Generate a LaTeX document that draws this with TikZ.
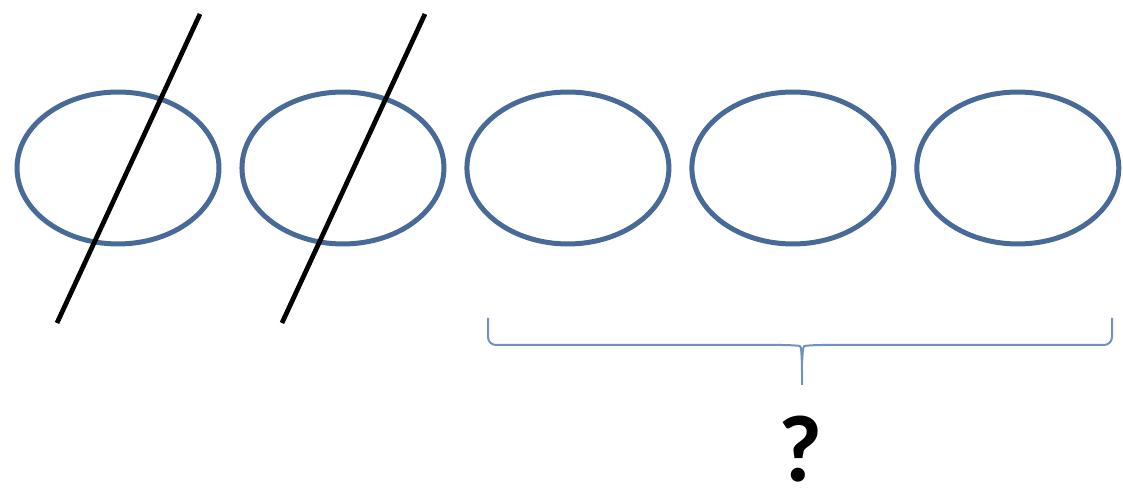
\documentclass[tikz,border=0pt]{standalone}
\usepackage{fontspec}
\setsansfont{Carlito}
\usetikzlibrary{positioning, shapes.geometric}
\definecolor{ringblue}{RGB}{72,106,150}
\definecolor{braceblue}{RGB}{112,146,190}

\begin{document}
\begin{tikzpicture}[x=0.02cm, y=-0.02cm, node distance=0.36cm,
        ring/.style={draw=ringblue, ellipse, line width=0.1cm,
                     minimum width=4.04cm, minimum height=3.04cm, inner sep=0pt},
        slash/.style={line width=0.095cm, black},
        bracket/.style={draw=braceblue, line width=0.04cm, rounded corners=0.16cm}]
      \useasboundingbox (0,0) rectangle (1123,492);
      % five sets in a row
      \node[ring] (r1) at (118,168) {};
      \node[ring, right=of r1] (r2) {};
      \node[ring, right=of r2] (r3) {};
      \node[ring, right=of r3] (r4) {};
      \node[ring, right=of r4] (r5) {};
      % the first two are struck out
      \draw[slash] ([shift={(82,-154)}]r1.center) -- ([shift={(-61,155)}]r1.center);
      \draw[slash] ([shift={(82,-154)}]r2.center) -- ([shift={(-61,155)}]r2.center);
      % brace under the last three
      \coordinate (bl) at (488,318);
      \coordinate (br) at (1112,318);
      \coordinate (bt) at (802,385);
      \draw[bracket] (bl) -- (488,345) -- (790,345) .. controls (801,346) .. (802,364) -- (bt);
      \draw[bracket] (br) -- (1112,345) -- (814,345) .. controls (803,346) .. (802,364);
      \node[font=\sffamily\bfseries\fontsize{54}{58}\selectfont, anchor=base, inner sep=0pt] (q) at (800,482) {?};
    \end{tikzpicture}
\end{document}
